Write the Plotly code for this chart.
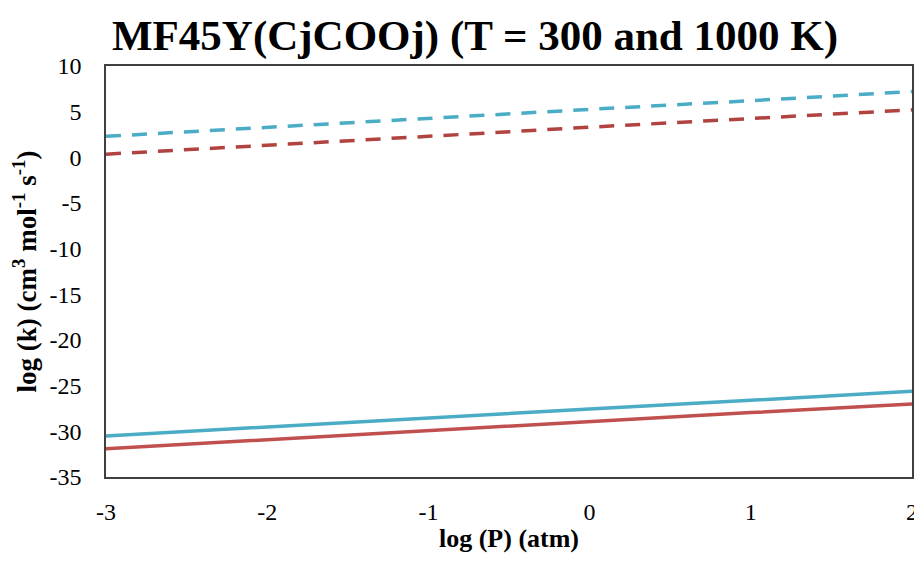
import plotly.graph_objects as go

log_p = [-3, -2, -1, 0, 1, 2]
x_ticks = [-3, -2, -1, 0, 1, 2]
x_tick_labels = ["-3", "-2", "-1", "0", "1", "2"]
y_ticks = [-35, -30, -25, -20, -15, -10, -5, 0, 5, 10]
y_tick_labels = ["-35", "-30", "-25", "-20", "-15", "-10", "-5", "0", "5", "10"]

blue_dashed = [2.3, 3.3, 4.25, 5.25, 6.2, 7.2]
red_dashed = [0.35, 1.3, 2.3, 3.3, 4.25, 5.2]
blue_solid = [-30.5, -29.5, -28.55, -27.55, -26.6, -25.6]
red_solid = [-31.9, -30.9, -29.95, -28.95, -27.95, -27.0]

BLUE = "#4bacc6"
RED = "#c0504d"
RED_D = "#b0433f"
DASH = "15px,11px"

fig = go.Figure()
fig.add_trace(go.Scatter(x=log_p, y=blue_dashed, mode="lines",
                         line=dict(color=BLUE, width=3.5, dash=DASH)))
fig.add_trace(go.Scatter(x=log_p, y=red_dashed, mode="lines",
                         line=dict(color=RED_D, width=3.5, dash=DASH)))
fig.add_trace(go.Scatter(x=log_p, y=blue_solid, mode="lines",
                         line=dict(color=BLUE, width=3.5)))
fig.add_trace(go.Scatter(x=log_p, y=red_solid, mode="lines",
                         line=dict(color=RED, width=3.5)))

font = "Liberation Serif, Times New Roman, serif"
W, H = 910, 545
fig.update_layout(
    width=W, height=H,
    margin=dict(l=98, r=6, t=58, b=76, autoexpand=False),
    paper_bgcolor="white", plot_bgcolor="white",
    showlegend=False,
    font=dict(family=font, color="black"),
    title=dict(text="<b>MF45Y(CjCOOj) (T = 300 and 1000 K)</b>",
               x=467 / W, xanchor="center", xref="container",
               y=1 - 27 / H, yref="container", yanchor="middle",
               font=dict(family=font, size=43, color="black")),
    xaxis=dict(range=[-3, 2], tickvals=x_ticks, ticktext=x_tick_labels,
               showgrid=False, zeroline=False, showline=True, mirror=True,
               linecolor="#404040", linewidth=1.5, ticks="", automargin=False,
               tickfont=dict(family=font, size=24), ticklabelstandoff=12,
               title=dict(text="<b>log (P) (atm)</b>", standoff=16,
                          font=dict(family=font, size=26))),
    yaxis=dict(range=[-35, 10], tickvals=y_ticks, ticktext=y_tick_labels,
               showgrid=False, zeroline=False, showline=True, mirror=True,
               linecolor="#404040", linewidth=1.5, ticks="", automargin=False,
               tickfont=dict(family=font, size=24), ticklabelstandoff=18,
               title=dict(text="<b>log (k) (cm<sup>3</sup> mol<sup>-1</sup> s<sup>-1</sup>)</b>",
                          standoff=14, font=dict(family=font, size=27))),
)

fig.write_html("out.html")
